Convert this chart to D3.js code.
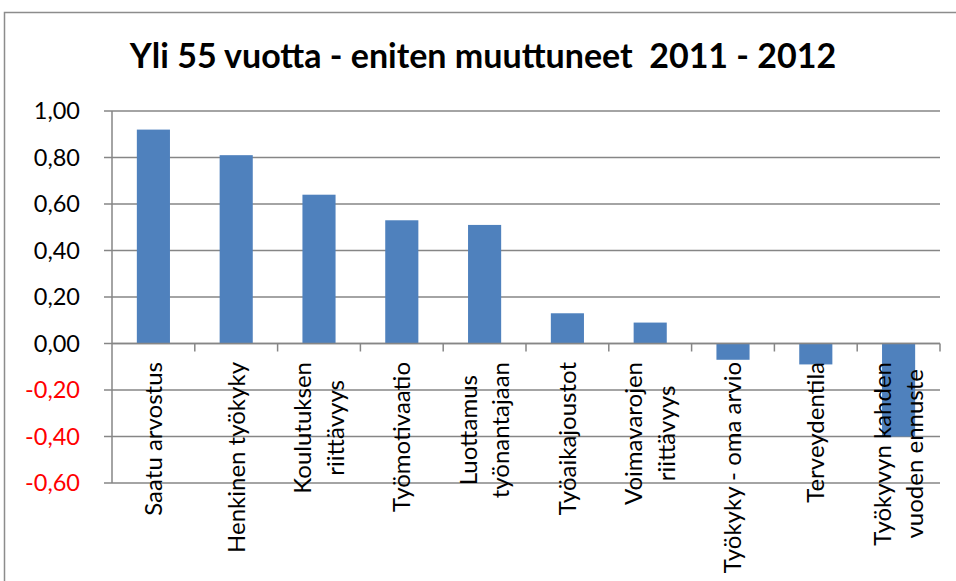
<!DOCTYPE html>
<html><head><meta charset="utf-8">
<script src="https://cdn.jsdelivr.net/npm/d3@7"></script>
<style>body{margin:0;background:#fff}svg{display:block}</style>
</head><body>
<svg id="c" width="956" height="581"></svg>
<script>
const title = "Yli 55 vuotta - eniten muuttuneet  2011 - 2012";
const categories = [
  ["Saatu arvostus"],
  ["Henkinen työkyky"],
  ["Koulutuksen", "riittävyys"],
  ["Työmotivaatio"],
  ["Luottamus", "työnantajaan"],
  ["Työaikajoustot"],
  ["Voimavarojen", "riittävyys"],
  ["Työkyky - oma arvio"],
  ["Terveydentila"],
  ["Työkyvyn kahden", "vuoden ennuste"]
];
const values = [0.92, 0.81, 0.64, 0.53, 0.51, 0.13, 0.09, -0.07, -0.09, -0.40];
const yTicks = [-0.6, -0.4, -0.2, 0, 0.2, 0.4, 0.6, 0.8, 1.0];

(function () {
const svg = d3.select("#c");
const W = 956, H = 581;
const pL = 112, pR = 940, pT = 111, pB = 483;
const font = "Lato, 'Open Sans', sans-serif";
const grid = "#868686";

svg.append("rect").attr("x", 0).attr("y", 0).attr("width", W).attr("height", H).attr("fill", "#fff");
svg.append("rect").attr("x", 4.5).attr("y", 12.5).attr("width", 1200).attr("height", 1200)
  .attr("fill", "none").attr("stroke", "#8c8c8c").attr("stroke-width", 1.5);

svg.append("text").attr("x", 483).attr("y", 68).attr("text-anchor", "middle")
  .attr("font-family", font).attr("font-weight", "bold").attr("font-size", 34)
  .attr("fill", "#000").style("white-space", "pre").text(title);

const y = d3.scaleLinear().domain([-0.6, 1.0]).range([pB, pT]);
const keys = categories.map((c, i) => i);
const x = d3.scaleBand().domain(keys).range([pL, pR]).padding(0);
const barW = x.bandwidth() * 0.4;

svg.append("g").selectAll("line").data(yTicks).join("line")
  .attr("x1", pL - 8).attr("x2", pR)
  .attr("y1", d => y(d)).attr("y2", d => y(d))
  .attr("stroke", grid).attr("stroke-width", 1.5);

svg.append("g").selectAll("text").data(yTicks).join("text")
  .attr("x", 80).attr("y", d => y(d)).attr("dy", "0.35em")
  .attr("text-anchor", "end").attr("font-family", font).attr("font-size", 23.5)
  .attr("fill", d => d < 0 ? "#ff0000" : "#000")
  .text(d => d3.format(".2f")(d).replace(".", ",").replace("−", "-"));

svg.append("g").selectAll("rect").data(values).join("rect")
  .attr("x", (d, i) => x(i) + (x.bandwidth() - barW) / 2)
  .attr("width", barW)
  .attr("y", d => y(Math.max(0, d)))
  .attr("height", d => Math.abs(y(d) - y(0)))
  .attr("fill", "#4f81bd");

svg.append("line").attr("x1", pL).attr("x2", pL).attr("y1", pT).attr("y2", pB)
  .attr("stroke", grid).attr("stroke-width", 1.5);
svg.append("line").attr("x1", pL).attr("x2", pR).attr("y1", y(0)).attr("y2", y(0))
  .attr("stroke", grid).attr("stroke-width", 1.5);
svg.append("g").selectAll("line").data(keys.map(i => x(i) + x.bandwidth()))
  .join("line").attr("x1", d => d).attr("x2", d => d)
  .attr("y1", y(0)).attr("y2", y(0) + 8).attr("stroke", grid).attr("stroke-width", 1.5);

const labelTop = 362, lineH = 33, fs = 24;
const lg = svg.append("g");
categories.forEach((lines, i) => {
  const cx = x(i) + x.bandwidth() / 2;
  const t = lg.append("text").attr("font-family", font).attr("font-size", fs)
    .attr("fill", "#000").attr("text-anchor", "middle");
  const n = lines.length;
  lines.forEach((ln, j) => {
    t.append("tspan").attr("x", 0).attr("y", (j - (n - 1) / 2) * lineH).attr("dy", "0.35em").text(ln);
  });
  let maxW = 0;
  t.selectAll("tspan").each(function () { maxW = Math.max(maxW, this.getComputedTextLength()); });
  t.attr("transform", `translate(${cx},${labelTop + maxW / 2}) rotate(-90)`);
});
})();
</script>
</body></html>
